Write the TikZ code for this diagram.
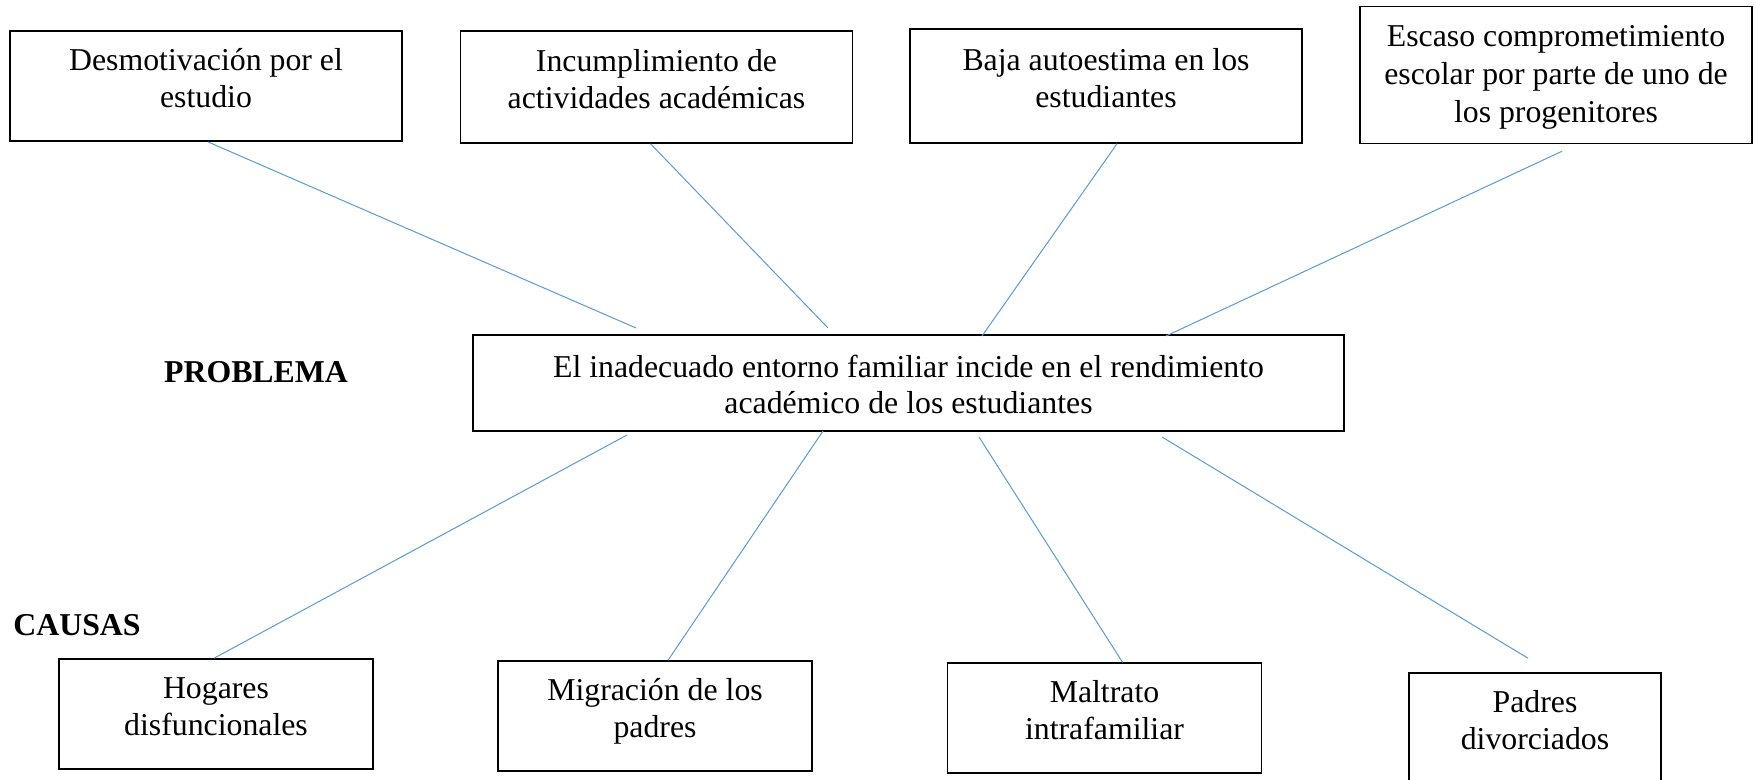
\documentclass[tikz,border=0pt]{standalone}
\usepackage{fontspec}
\setmainfont{Liberation Serif}
\definecolor{linkblue}{HTML}{5B9BD5}

\begin{document}
\begin{tikzpicture}[x=0.5pt,y=-0.5pt]

    \def\topw{196pt}
    \def\botw{157pt}
    \def\both{55pt}

    % Styles
    \tikzstyle{box}=[draw=black,line width=0.75pt,align=center,inner sep=2pt,font=\fontsize{15.9}{18.35}\selectfont]
    \tikzstyle{lift}=[text height=23.5pt,text depth=2pt]
    \tikzstyle{link}=[draw=linkblue,line width=0.5pt]
    \tikzstyle{heading}=[font=\fontsize{15.9}{18.35}\selectfont\bfseries]

    \useasboundingbox[fill=white] (0,0) rectangle (1756,780);

    % effects
    \node[box,lift,minimum width=\topw,minimum height=55pt] (desmot) at (206,86.2) {Desmotivación por el\\estudio};
    \node[box,lift,minimum width=\topw,minimum height=56pt] (incump) at (656.5,87) {Incumplimiento de\\actividades académicas};
    \node[box,lift,minimum width=\topw,minimum height=57pt] (autoest) at (1106,86) {Baja autoestima en los\\estudiantes};
    \node[box,minimum width=\topw,minimum height=68.5pt,text height=50pt,text depth=2pt,font=\fontsize{15.9}{19.15}\selectfont] (escaso) at (1556,75) {Escaso comprometimiento\\escolar por parte de uno de\\los progenitores};

    % problem
    \node[heading] (problema) at (256,372) {PROBLEMA};
    \node[box,minimum width=435.5pt,minimum height=48pt,text height=32.7pt,text depth=2pt] (centro) at (908.5,383) {El inadecuado entorno familiar incide en el rendimiento\\académico de los estudiantes};

    % causes
    \node[heading] (causas) at (77,625) {CAUSAS};
    \node[box,lift,minimum width=\botw,minimum height=\both] (hogares) at (216,714) {Hogares\\disfuncionales};
    \node[box,lift,minimum width=\botw,minimum height=\both] (migra) at (655,716) {Migración de los\\padres};
    \node[box,lift,minimum width=\botw,minimum height=\both] (maltrato) at (1104.5,718) {Maltrato\\intrafamiliar};
    \node[box,lift,minimum width=126pt,minimum height=\both] (divorc) at (1535,728) {Padres\\divorciados};

    % free ends near the problem box
    \coordinate (t1) at (636,328);
    \coordinate (t2) at (828,328);
    \coordinate (t3) at (982,336);
    \coordinate (t4) at (1166,336);
    \coordinate (s1) at (627,435);
    \coordinate (s2) at (823,431);
    \coordinate (s3) at (979,437);
    \coordinate (s4) at (1162,437);

    % effect lines
    \draw[link] ([xshift=1pt]desmot.south) -- (t1);
    \draw[link] ([xshift=-3pt]incump.south) -- (t2);
    \draw[link] ([xshift=5.5pt]autoest.south) -- (t3);
    \draw[link] ([xshift=3pt,yshift=-3.5pt]escaso.south) -- (t4);

    % cause lines
    \draw[link] (s1) -- ([xshift=-1pt]hogares.north);
    \draw[link] (s2) -- ([xshift=6.5pt]migra.north);
    \draw[link] (s3) -- ([xshift=9pt]maltrato.north);
    \draw[link] (s4) -- ([xshift=-3.5pt,yshift=7pt]divorc.north);

\end{tikzpicture}
\end{document}
